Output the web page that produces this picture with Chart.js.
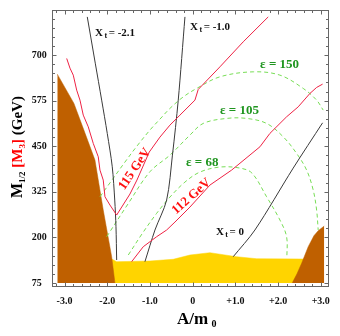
<!DOCTYPE html>
<html><head><meta charset="utf-8">
<script src="https://cdn.jsdelivr.net/npm/chart.js@4/dist/chart.umd.min.js"></script>
<style>html,body{margin:0;padding:0;background:#fff}#wrap{width:340px;height:336px;position:relative}</style>
</head><body><div id="wrap"><canvas id="c" width="340" height="336"></canvas></div>
<script>
// ---- axis ticks ----
const xTickValues = [-3, -2, -1, 0, 1, 2, 3];
const xTickLabels = ['-3.0', '-2.0', '-1.0', '0', '+1.0', '+2.0', '+3.0'];
const yTickValues = [75, 200, 325, 450, 575, 700];
const yTickLabels = ['75', '200', '325', '450', '575', '700'];

// ---- excluded regions (A/m0, M1/2) ----
const brownLeftA = [-3.169, -2.779, -2.575, -2.287, -2.093, -1.896, -1.819];
const brownLeftM = [647.9, 567.6, 503.4, 412.1, 275.1, 147.1, 75];
const yellowA = [-1.896, -1.779, -1.000, -0.454, -0.063, 0.405, 0.716, 1.030, 1.498, 2.589, 3.074];
const yellowM = [140.8, 133.4, 135.3, 140.0, 151.7, 158.1, 152.6, 147.1, 141.6, 140.8, 140.8];
const brownRightA = [2.331, 2.441, 2.552, 2.706, 2.840, 2.940, 3.081];
const brownRightM = [75, 99.7, 129, 174.5, 204.7, 218.4, 231.2];

// ---- Higgs mass contours ----
const red115A = [-2.949, -2.872, -2.795, -2.715, -2.638, -2.561, -2.444, -2.327, -2.210, -2.170, -2.093, -2.053, -1.936, -1.779, -1.468, -1.304, -1.016, -0.765, -0.531, -0.297, 0.054, 0.131, 0.639, 1.184, 1.770];
const red115M = [690.9, 664.3, 645.1, 604.0, 576.6, 535.5, 503.4, 457.9, 421.2, 384.7, 357.3, 311.5, 288.8, 261.4, 319.0, 357.3, 434.1, 475.2, 508.1, 535.5, 576.6, 605.9, 667.9, 736.4, 804.9];
const red112A = [-1.428, -1.156, -0.843, -0.609, -0.414, -0.063, 0.405, 0.913, 1.576, 1.809, 2.200, 2.472, 2.746, 2.903, 3.043];
const red112M = [133.4, 174.5, 201.9, 220.3, 242.2, 283.3, 343.6, 384.7, 448.6, 485.3, 530.8, 558.2, 594.9, 611.4, 620.5];

// ---- x_t contours ----
const xtm21A = [-2.467, -2.280, -2.130, -1.999, -1.882, -1.824, -1.795, -1.779];
const xtm21M = [804.9, 678.0, 576.6, 485.3, 393.8, 302.5, 229.3, 138.0];
const xtm10A = [-0.180, -0.337, -0.473, -0.609, -0.882, -1.117];
const xtm10M = [804.9, 576.6, 425.8, 302.5, 220.3, 133.4];
const xt0A = [0.950, 1.458, 2.355, 3.043];
const xt0M = [147.1, 220.3, 390.2, 514.4];

// ---- epsilon contours ----
const eps150A = [-2.170, -1.889, -1.585, -1.304, -1.000, -0.765, -0.531, -0.227, 0.094, 0.639, 1.419, 2.044, 2.589, 2.903, 3.057];
const eps150M = [311.5, 357.3, 406.7, 450.5, 494.4, 524.5, 553.9, 584.8, 608.7, 640.5, 654.2, 645.1, 608.7, 576.6, 549.2];
const eps105A = [-2.013, -1.515, -1.000, -0.531, -0.063, 0.248, 0.796, 1.264, 1.732, 2.121, 2.434, 2.669, 2.823, 2.903, 2.940];
const eps105M = [201.9, 291.5, 380.1, 425.8, 480.7, 512.7, 526.4, 526.4, 512.7, 476.0, 430.5, 384.7, 329.9, 275.1, 220.3];
const eps68A = [-1.507, -1.187, -0.843, -0.531, -0.180, 0.171, 0.639, 1.107, 1.388, 1.732, 2.044, 2.200, 2.207];
const eps68M = [151.7, 209.3, 266.0, 310.7, 351.8, 379.3, 393.0, 390.2, 376.5, 311.5, 247.7, 201.9, 143.5];

// ---- in-plot labels (anchor in data units) ----
const xtLabels = [
  {val: '-2.1', A: -2.285, M: 752},
  {val: '-1.0', A: -0.061, M: 768},
  {val: '0', A: 0.545, M: 206}
];
const epsLabels = [
  {text: '\u03B5 = 150', A: 1.580, M: 663.5},
  {text: '\u03B5 = 105', A: 0.639, M: 538.2},
  {text: '\u03B5 = 68', A: -0.157, M: 396.8}
];
const massLabels = [
  {text: '115 GeV', A: -1.355, M: 387.5, angle: -55.6},
  {text: '112 GeV', A: -0.028, M: 312.1, angle: -41.7}
];

const pts = (a, m) => a.map((v, i) => ({x: v, y: m[i]}));
const SERIF = "'Liberation Serif', 'DejaVu Serif', 'Times New Roman', serif";
const RED = '#ee2244', BLACK = '#3a3a3a', GREEN = '#77dd55';

const lineDs = (data, color, dash, tension) => ({
  data, showLine: true, fill: false, borderColor: color, borderWidth: 1,
  borderDash: dash || [], pointRadius: 0, tension: tension || 0
});
const fillDs = (data, color) => ({
  data, showLine: true, fill: {value: 75}, backgroundColor: color,
  borderColor: color, borderWidth: 0.5, pointRadius: 0, tension: 0
});

const deco = {
  id: 'deco',
  afterDatasetsDraw(chart) {
    const {ctx, chartArea: a, scales: {x, y}} = chart;
    ctx.save();
    const L = Math.round(a.left) + 0.5, R = Math.round(a.right) - 0.5;
    const T = Math.round(a.top) + 0.5, B = Math.round(a.bottom) - 0.5;
    ctx.strokeStyle = '#666'; ctx.lineWidth = 1;
    ctx.strokeRect(L, T, R - L, B - T);
    ctx.beginPath();
    for (let v = 75; v <= 820; v += 25) {
      const py = Math.round(y.getPixelForValue(v)) + 0.5;
      const len = (v - 75) % 125 === 0 ? 4 : 2.5;
      ctx.moveTo(L, py); ctx.lineTo(L + len, py);
      ctx.moveTo(R, py); ctx.lineTo(R - len, py);
    }
    for (let k = -16; k <= 16; k++) {
      const v = k * 0.2;
      const px = Math.round(x.getPixelForValue(v)) + 0.5;
      if (px <= L || px >= R) continue;
      const len = k % 5 === 0 ? 4 : 2.5;
      ctx.moveTo(px, B); ctx.lineTo(px, B - len);
      ctx.moveTo(px, T); ctx.lineTo(px, T + len);
    }
    ctx.stroke();

    // x_t labels
    ctx.fillStyle = '#111';
    ctx.textBaseline = 'alphabetic';
    xtLabels.forEach(l => {
      let px = x.getPixelForValue(l.A), py = y.getPixelForValue(l.M);
      ctx.font = 'bold 11px ' + SERIF;
      ctx.fillText('X', px, py); px += ctx.measureText('X').width + 1.5;
      ctx.font = 'bold 8px ' + SERIF;
      ctx.fillText('t', px, py + 2); px += ctx.measureText('t').width + 1.5;
      ctx.font = 'bold 11px ' + SERIF;
      ctx.fillText('= ' + l.val, px, py);
    });
    // epsilon labels
    ctx.fillStyle = '#1f951f';
    ctx.font = 'bold 13px ' + SERIF;
    epsLabels.forEach(l => ctx.fillText(l.text, x.getPixelForValue(l.A), y.getPixelForValue(l.M)));
    // mass labels
    ctx.fillStyle = '#ff1010';
    ctx.textAlign = 'center'; ctx.textBaseline = 'middle';
    massLabels.forEach(l => {
      ctx.save();
      ctx.translate(x.getPixelForValue(l.A), y.getPixelForValue(l.M));
      ctx.rotate(l.angle * Math.PI / 180);
      ctx.fillText(l.text, 0, 0);
      ctx.restore();
    });

    // axis titles
    ctx.textAlign = 'left'; ctx.textBaseline = 'alphabetic';
    ctx.save();
    ctx.translate(22, 198);
    ctx.rotate(-Math.PI / 2);
    let cx = 0;
    const seg = (t, size, color, dy) => {
      ctx.font = 'bold ' + size + 'px ' + SERIF; ctx.fillStyle = color;
      ctx.fillText(t, cx, dy); cx += ctx.measureText(t).width;
    };
    seg('M', 16, '#000', 0); seg('1/2', 9, '#000', 3);
    seg(' [M', 15, '#ff0000', 0); seg('3', 9, '#ff0000', 3); seg(']', 15, '#ff0000', 0);
    seg(' (GeV)', 15, '#000', 0);
    ctx.restore();

    ctx.fillStyle = '#000';
    ctx.font = 'bold 17px ' + SERIF;
    ctx.fillText('A/m', 177, 323.5);
    ctx.font = 'bold 10px ' + SERIF;
    ctx.fillText('0', 211.5, 326.5);
    ctx.restore();
  }
};

new Chart(document.getElementById('c'), {
  type: 'scatter',
  data: {
    datasets: [
      lineDs(pts(red115A, red115M), RED),
      lineDs(pts(red112A, red112M), RED),
      lineDs(pts(xtm21A, xtm21M), BLACK, null, 0.3),
      lineDs(pts(xtm10A, xtm10M), BLACK, null, 0.3),
      lineDs(pts(xt0A, xt0M), BLACK, null, 0.3),
      lineDs(pts(eps150A, eps150M), GREEN, [4, 3], 0.35),
      lineDs(pts(eps105A, eps105M), GREEN, [4, 3], 0.35),
      lineDs(pts(eps68A, eps68M), GREEN, [4, 3], 0.35),
      fillDs(pts(brownLeftA, brownLeftM), '#bf6000'),
      fillDs(pts(brownRightA, brownRightM), '#bf6000'),
      fillDs(pts(yellowA, yellowM), '#ffd400')
    ]
  },
  options: {
    responsive: false, animation: false, devicePixelRatio: 1,
    layout: {padding: {left: 31.7, top: 10.3, right: 10.7, bottom: 0}},
    plugins: {legend: {display: false}, tooltip: {enabled: false}},
    scales: {
      x: {
        type: 'linear', min: -3.30, max: 3.20,
        grid: {display: false, drawTicks: false}, border: {display: false},
        afterBuildTicks: s => { s.ticks = xTickValues.map(v => ({value: v})); },
        afterFit: s => { s.height = 49; },
        ticks: {
          padding: 8, color: '#111',
          font: {family: SERIF, size: 10, weight: 'bold'},
          callback: (v) => xTickLabels[xTickValues.indexOf(v)]
        }
      },
      y: {
        type: 'linear', min: 64, max: 823,
        grid: {display: false, drawTicks: false}, border: {display: false},
        afterBuildTicks: s => { s.ticks = yTickValues.map(v => ({value: v})); },
        afterFit: s => { s.width = 20; },
        ticks: {
          padding: 4, color: '#111', crossAlign: 'far',
          font: {family: SERIF, size: 10, weight: 'bold'},
          callback: (v) => yTickLabels[yTickValues.indexOf(v)]
        }
      }
    }
  },
  plugins: [deco]
});
</script></body></html>
